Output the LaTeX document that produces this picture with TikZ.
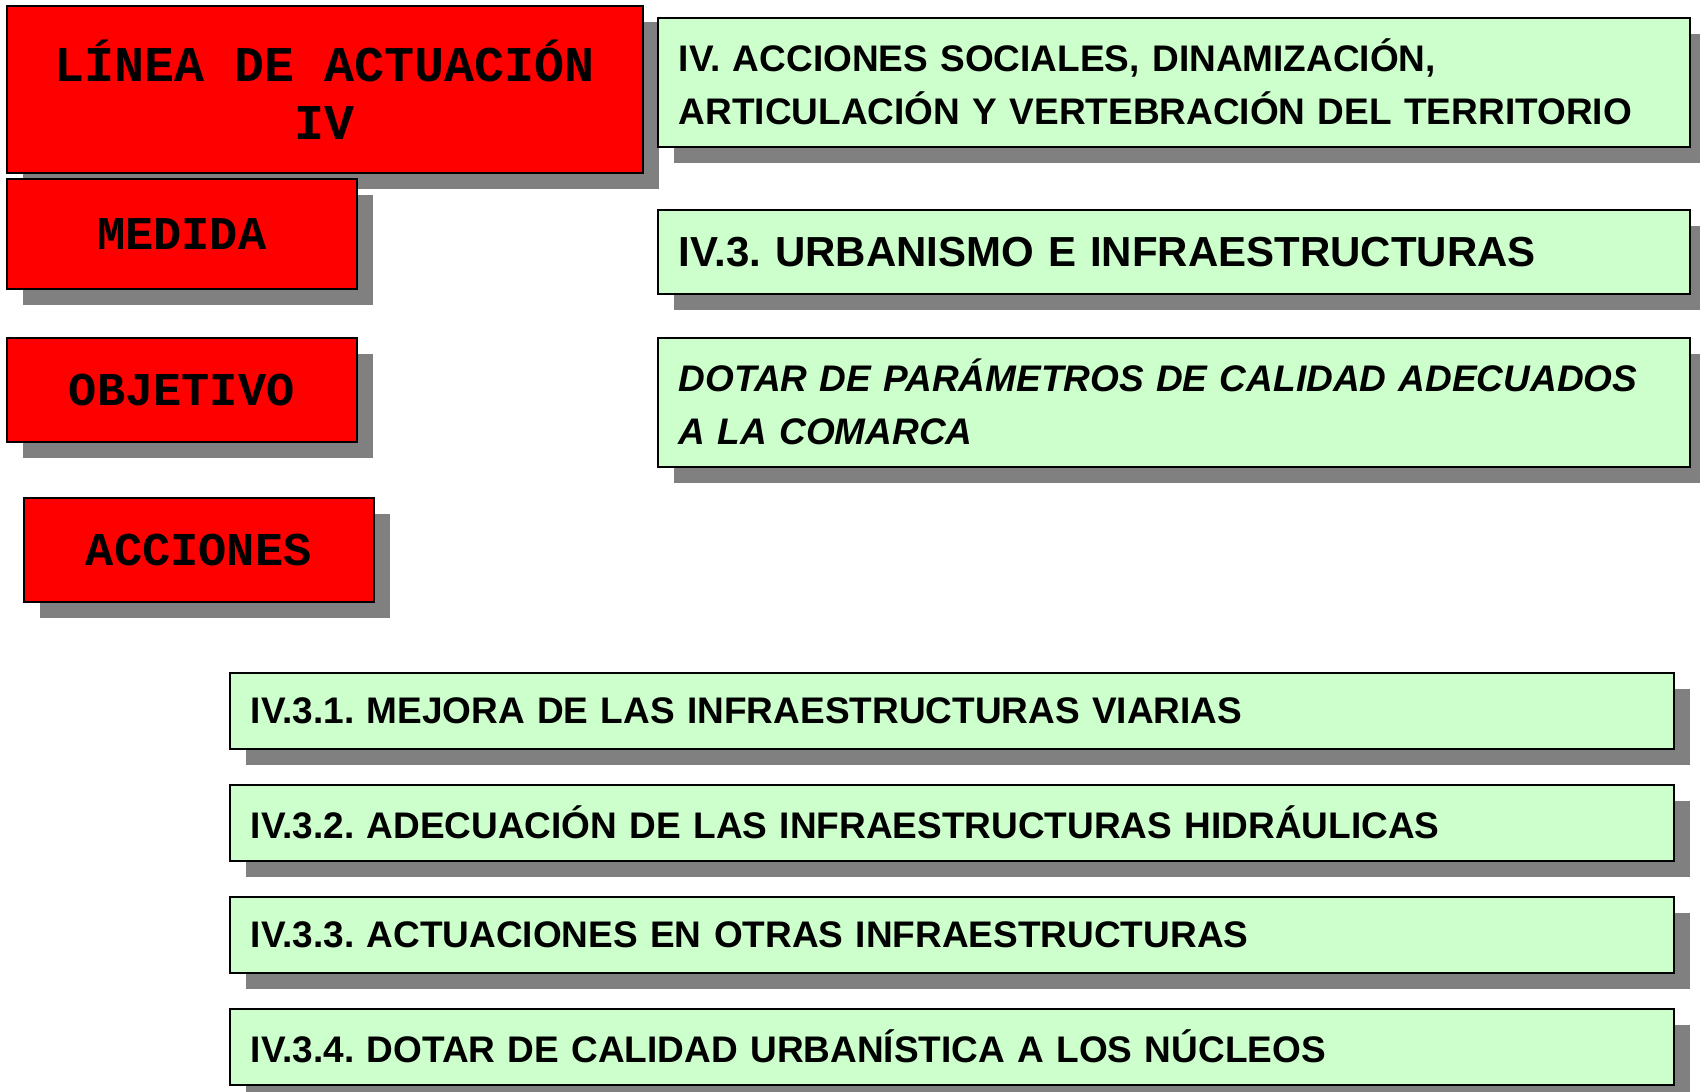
\documentclass[tikz,border=0pt]{standalone}
\usepackage{fontspec}
\setmainfont{Liberation Sans}
\newfontfamily\courierFont{Liberation Mono}
\usetikzlibrary{positioning,shadows}
\frenchspacing
\definecolor{boxRed}{RGB}{255,0,0}
\definecolor{boxGreen}{RGB}{204,255,204}
\definecolor{boxShadow}{RGB}{128,128,128}
\tikzset{RedBox/.style={%
    shape=rectangle,%
    draw=black,%
    fill=boxRed,%
    line width=1.5pt,%
    inner sep=0pt,%
    anchor=north west,%
    align=center,%
    minimum width=350pt,%
    minimum height=104pt,%
    font=\courierFont\bfseries\fontsize{47}{58}\selectfont,%
    drop shadow={shadow xshift=16pt,shadow yshift=-16pt,fill=boxShadow,opacity=1},%
}}
\tikzset{GreenBox/.style={%
    shape=rectangle,%
    draw=black,%
    fill=boxGreen,%
    line width=1.5pt,%
    inner xsep=21pt,%
    inner ysep=0pt,%
    anchor=north west,%
    align=left,%
    text width=990pt,%
    minimum height=129pt,%
    font=\bfseries\fontsize{37}{53}\selectfont,%
    drop shadow={shadow xshift=16pt,shadow yshift=-16pt,fill=boxShadow,opacity=1},%
}}
\tikzset{ItemBox/.style={%
    GreenBox,%
    text width=1402pt,%
    minimum height=76pt,%
    node distance=34.5pt,%
}}

\begin{document}
\begin{tikzpicture}[x=1pt,y=-1pt]
    \useasboundingbox (0,0) rectangle (1700,1092);

    % left column
    \node[RedBox, minimum width=636pt, minimum height=167pt,
          font=\courierFont\bfseries\fontsize{50}{58}\selectfont]
          (linea) at (6,5) {LÍNEA DE ACTUACIÓN\\IV};
    \node[RedBox, minimum height=110pt] (medida) at (6,178) {MEDIDA};
    \node[RedBox] (objetivo) at (6,337) {OBJETIVO};
    \node[RedBox] (acciones) at (23,497) {ACCIONES};

    % right column
    \node[GreenBox] (ejeText) at (657,17)
        {IV. ACCIONES SOCIALES, DINAMIZACIÓN,\\ARTICULACIÓN Y VERTEBRACIÓN DEL TERRITORIO};
    \node[GreenBox, minimum height=84pt, font=\bfseries\fontsize{42}{50}\selectfont]
        (medidaText) at (657,209) {IV.3. URBANISMO E INFRAESTRUCTURAS};
    \node[GreenBox, font=\bfseries\itshape\fontsize{37}{53}\selectfont]
        (objetivoText) at (657,337) {DOTAR DE PARÁMETROS DE CALIDAD ADECUADOS\\A LA COMARCA};

    % actions
    \node[ItemBox] (acc1) at (229,672) {IV.3.1. MEJORA DE LAS INFRAESTRUCTURAS VIARIAS};
    \node[ItemBox, below=of acc1] (acc2) {IV.3.2. ADECUACIÓN DE LAS INFRAESTRUCTURAS HIDRÁULICAS};
    \node[ItemBox, below=of acc2] (acc3) {IV.3.3. ACTUACIONES EN OTRAS INFRAESTRUCTURAS};
    \node[ItemBox, below=of acc3] (acc4) {IV.3.4. DOTAR DE CALIDAD URBANÍSTICA A LOS NÚCLEOS};
\end{tikzpicture}
\end{document}
